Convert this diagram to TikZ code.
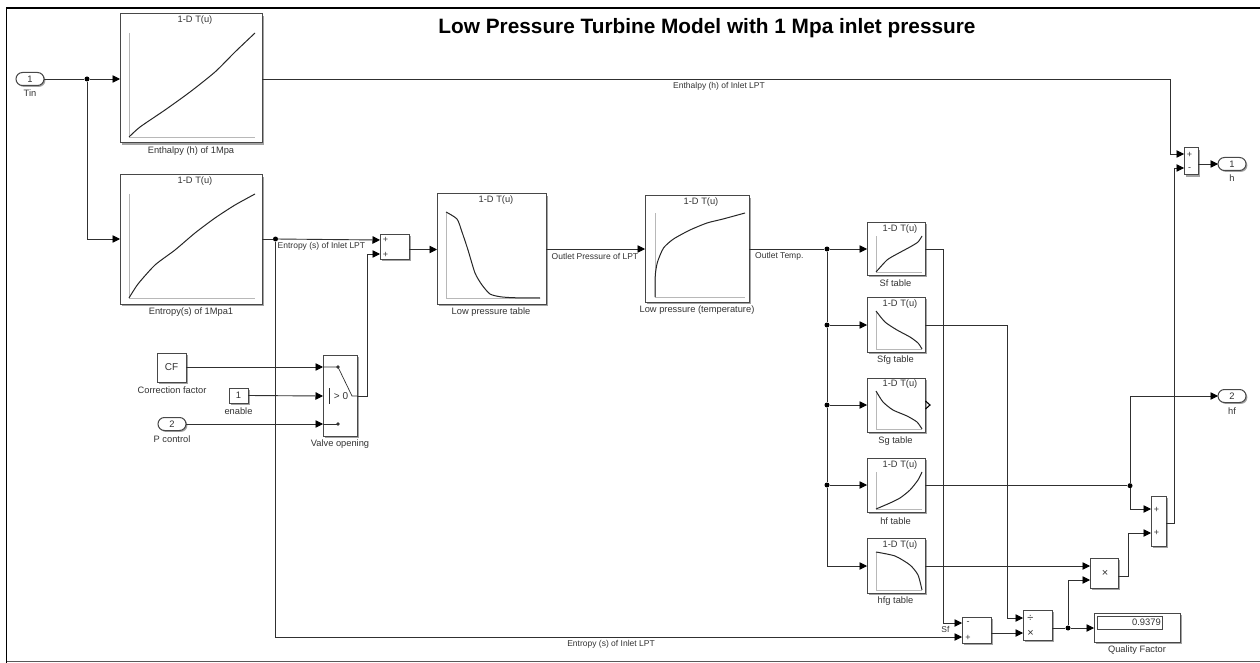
\documentclass[tikz,border=0pt]{standalone}
\usepackage{fontspec}
\setmainfont{Liberation Sans}
\usetikzlibrary{arrows.meta,shadows,shapes.misc,calc}
\definecolor{edge}{HTML}{484848}
\definecolor{wirec}{HTML}{303030}
\definecolor{txt}{HTML}{333333}
\tikzset{
  x=1pt,y=-1pt,
  block/.style={draw=edge,line width=1pt,fill=white,inner sep=0pt,outer sep=0pt,
    drop shadow={shadow xshift=1.6pt,shadow yshift=-1.6pt,fill=black!42,opacity=.85}},
  port/.style={rounded rectangle,draw=edge,line width=1pt,fill=white,inner sep=0pt,outer sep=0pt,
    minimum width=28pt,minimum height=13pt,font=\fontsize{9.4}{10}\selectfont,text=txt,
    drop shadow={shadow xshift=1.4pt,shadow yshift=-1.4pt,fill=black!42,opacity=.85}},
  wire/.style={draw=wirec,line width=.9pt},
  arrowed/.style={wire,-{Triangle[length=7.5pt,width=7.5pt,color=black]}},
  dot/.style={circle,fill=black,inner sep=0pt,minimum size=5pt},
  lab/.style={font=\fontsize{9.3}{10}\selectfont,text=txt,inner sep=0pt},
  sig/.style={font=\fontsize{8.5}{10}\selectfont,text=txt,inner sep=0pt},
  ttl/.style={font=\fontsize{9.3}{10}\selectfont,text=txt,inner sep=0pt},
  sgn/.style={font=\fontsize{9}{10}\selectfont,text=txt,inner sep=0pt},
  axis/.style={draw=black!28,line width=.9pt},
  curve/.style={draw=black!85,line width=1pt,smooth,tension=.4},
}
\newcommand{\blk}[5]{%
  \pgfmathsetmacro\bw{#4-#2}\pgfmathsetmacro\bh{#5-#3}%
  \node[block,minimum width=\bw pt,minimum height=\bh pt] (#1) at ({(#2+#4)/2},{(#3+#5)/2}) {};}
\begin{document}
\begin{tikzpicture}
\useasboundingbox (0,0) rectangle (1260,663);
\fill[white] (0,0) rectangle (1260,663);
\draw[black,line width=1.4pt] (6.5,663) -- (6.5,8) -- (1260,8);
\draw[black!65,line width=1pt] (6.5,661) -- (1260,661);

\node[font=\bfseries\fontsize{20.8}{22}\selectfont,inner sep=0pt] (title) at (707,28) {Low Pressure Turbine Model with 1 Mpa inlet pressure};

% ---- blocks
\blk{enth}{120}{14}{262}{143}
\blk{entr}{120}{175}{262}{304}
\blk{sumA}{380}{234}{409}{259}
\blk{lpt}{437}{194}{546}{304}
\blk{lpT}{645}{196}{749}{302}
\blk{sf}{867}{222}{925}{275}
\blk{sfg}{867}{297}{925}{352}
\blk{sg}{867}{378}{925}{432}
\blk{hft}{867}{458}{925}{512}
\blk{hfg}{867}{538}{925}{593}
\blk{sub}{962}{617}{991}{643}
\blk{dv}{1023}{610}{1052}{640}
\blk{prod}{1090}{558}{1118}{588}
\blk{sumB}{1151}{496}{1166}{546}
\blk{sumC}{1184}{148}{1198}{175}
\blk{disp}{1094}{613}{1180}{642}
\blk{valve}{323}{355}{357}{436}
\blk{cf}{157}{353}{186}{382}
\blk{en}{229}{388}{248}{403}
\node[port] (tin) at (30,79) {1};
\node[port] (pc) at (172,424) {2};
\node[port] (hout) at (1232,164) {1};
\node[port] (hfout) at (1232,396) {2};

% ---- inner texts of blocks
\foreach \n/\cx/\cy in {enth/195/20,entr/195/181,lpt/496/200,lpT/701/202,sf/900/229,sfg/900/304,sg/900/384,hft/900/465,hfg/900/545}
  \node[ttl] (\n-title) at (\cx,\cy) {1-D T(u)};
\node[lab,font=\fontsize{10}{11}\selectfont] (cf-text) at (cf) {CF};
\node[lab,font=\fontsize{9.4}{10}\selectfont] (en-text) at (en) {1};
\node[sgn] (sA1) at (385.5,240) {+};
\node[sgn] (sA2) at (385.5,254.5) {+};
\node[sgn] (sB1) at (1156.5,509.5) {+};
\node[sgn] (sB2) at (1156.5,533) {+};
\node[sgn] (sC1) at (1189.5,154.5) {+};
\node[sgn] (sC2) at (1189.5,169) {-};
\node[sgn] (sub1) at (968,623.5) {-};
\node[sgn] (sub2) at (968,638) {+};
\node[lab,font=\fontsize{11}{12}\selectfont] (dv1) at (1030.5,618.5) {÷};
\node[lab,font=\fontsize{11}{12}\selectfont] (dv2) at (1030.5,633) {×};
\node[lab,font=\fontsize{11}{12}\selectfont] (prodx) at (1105,573) {×};
\node[draw=edge,line width=.8pt,fill=white,minimum width=65pt,minimum height=13pt,inner sep=0pt] (field) at (1129.5,622.5) {};
\node[lab,font=\fontsize{9.4}{10}\selectfont,anchor=east] (val) at (1161,622.5) {0.9379};
\node[lab,font=\fontsize{10}{11}\selectfont] (gt) at (341,396) {> 0};

% ---- table plots
\draw[axis] (129,33) -- (129,137) -- (255,137);
\draw[curve] plot coordinates {(129,137)(140,127)(165,110)(190,92)(215,72)(235,52)(255,33)};
\draw[axis] (129,194) -- (129,298) -- (255,298);
\draw[curve] plot coordinates {(129,298)(138,284)(155,265)(175,250)(195,233)(215,218)(235,205)(255,194)};
\draw[axis] (446,213) -- (446,298) -- (540,298);
\draw[curve] plot coordinates {(446,212)(457,219)(462,232)(468,250)(475,273)(482,285)(490,294)(500,296.7)(513,297.7)(540,298)};
\draw[axis] (655,213) -- (655,297) -- (745,297);
\draw[curve] plot coordinates {(655,297)(655.3,275)(657.5,262)(663.5,248)(673.5,239)(690,230)(707,223)(723,219)(745,213)};
\draw[axis] (876,236) -- (876,272) -- (922,272);
\draw[curve] plot coordinates {(876,272)(887,260)(897,254)(910,247)(918,242)(922,236)};
\draw[axis] (876,311) -- (876,349) -- (922,349);
\draw[curve] plot coordinates {(876,311)(885,322)(897,330)(910,337)(918,343)(922,349)};
\draw[axis] (876,391) -- (876,429) -- (922,429);
\draw[curve] plot coordinates {(876,391)(883,402)(893,410)(907,416)(917,422)(922,429)};
\draw[axis] (876,472) -- (876,509) -- (922,509);
\draw[curve] plot coordinates {(876,509)(890,503)(900,498)(910,490)(918,480)(922,472)};
\draw[axis] (876,552) -- (876,590) -- (922,590);
\draw[curve] plot coordinates {(876,552)(895,556)(910,565)(918,575)(922,590)};

% ---- switch glyph
\coordinate (v1) at (323,367);
\coordinate (v2) at (323,396);
\coordinate (v3) at (323,424);
\coordinate (vo) at (357,396);
\draw[wire,line width=.7pt] (v1) -- (338,367) -- (352,396) -- (vo);
\draw[wire,line width=.7pt] (v3) -- (338,424);
\draw[wire,line width=.8pt] (329,388) -- (329,404);
\fill[black!80] (338,367) circle (1.8pt) (338,424) circle (1.8pt);

% ---- junctions
\node[dot] (j1) at (87,79) {};
\node[dot] (j2) at (275.5,239) {};
\node[dot] (t1) at (827,249) {};
\node[dot] (t2) at (827,325) {};
\node[dot] (t3) at (827,405) {};
\node[dot] (t4) at (827,485) {};
\node[dot] (j3) at (1130,485.7) {};
\node[dot] (j4) at (1068,628) {};

% ---- port coordinates
\coordinate (a1) at (380,240);
\coordinate (a2) at (380,254);
\coordinate (b1) at (1151,509);
\coordinate (b2) at (1151,533);
\coordinate (c1) at (1184,154);
\coordinate (c2) at (1184,168);
\coordinate (s1) at (962,623);
\coordinate (s2) at (962,637);
\coordinate (d1) at (1023,618);
\coordinate (d2) at (1023,633);
\coordinate (p1) at (1090,566);
\coordinate (p2) at (1090,580);

% ---- connectors
\draw[wire] (tin.east) -- (j1);
\draw[arrowed] (j1) -- (enth.west |- j1);
\draw[arrowed] (j1) |- (entr.west |- j2);
\draw[wire] (entr.east |- j2) -- (j2);
\draw[arrowed] (j2) -- (a1);
\draw[arrowed] (j2) |- (s2);
\draw[arrowed] (vo) -- (367,396) |- (a2);
\draw[arrowed] (cf.east |- v1) -- (v1);
\draw[arrowed] (en.east) -- (v2);
\draw[arrowed] (pc.east) -- (v3);
\draw[arrowed] (sumA.east |- 0,249.5) -- (lpt.west |- 0,249.5);
\draw[arrowed] (lpt.east |- 0,249) -- (lpT.west |- 0,249);
\draw[wire] (lpT.east |- t1) -- (t1);
\draw[arrowed] (t1) -- (sf.west |- t1);
\draw[arrowed] (t2) -- (sfg.west |- t2);
\draw[arrowed] (t3) -- (sg.west |- t3);
\draw[arrowed] (t4) -- (hft.west |- t4);
\draw[arrowed] (t1) -- (t2) -- (t3) -- (t4) |- (hfg.west |- 0,566);
\draw[arrowed] (sf.east |- t1) -- (943,249) |- (s1);
\draw[arrowed] (sfg.east |- t2) -- (1007,325) |- (d1);
\draw[arrowed] (sub.east |- d2) -- (d2);
\draw[wire] (dv.east |- j4) -- (j4);
\draw[arrowed] (j4) -- (disp.west |- j4);
\draw[arrowed] (j4) |- (p2);
\draw[arrowed] (hfg.east |- p1) -- (p1);
\draw[wire] (hft.east |- j3) -- (j3);
\draw[arrowed] (j3) |- (b1);
\draw[arrowed] (j3) |- (hfout.west);
\draw[arrowed] (prod.east |- 0,576) -- (1128,576) |- (b2);
\draw[arrowed] (sumB.east |- 0,523) -- (1174,523) |- (c2);
\draw[arrowed] (enth.east |- j1) -- (1170,79) |- (c1);
\draw[arrowed] (sumC.east |- hout) -- (hout.west);
% output port of Sg table
\draw[line width=1.1pt,black] (925.5,401) -- (930,405) -- (925.5,409);

% ---- labels
\node[lab] (l1) at (30,93) {Tin};
\node[lab] (l2) at (191,151) {Enthalpy (h) of 1Mpa};
\node[lab] (l3) at (191,312) {Entropy(s) of 1Mpa1};
\node[sig] (l4) at (719,86) {Enthalpy (h) of Inlet LPT};
\node[sig,anchor=west] (l5) at (277.5,246.5) {Entropy (s) of Inlet LPT};
\node[sig] (l6) at (611,644) {Entropy (s) of Inlet LPT};
\node[lab] (l7) at (491,312.5) {Low pressure table};
\node[lab] (l8) at (697,310) {Low pressure (temperature)};
\node[sig,anchor=west] (l9) at (551.5,256.5) {Outlet Pressure of LPT};
\node[sig,anchor=west] (l10) at (755,256.5) {Outlet Temp.};
\node[lab] (l11) at (172,390) {Correction factor};
\node[lab] (l12) at (238.5,411) {enable};
\node[lab] (l13) at (172,439.5) {P control};
\node[lab] (l14) at (340,444.5) {Valve opening};
\node[lab] (l15) at (895.5,283) {Sf table};
\node[lab] (l16) at (895.5,360) {Sfg table};
\node[lab] (l17) at (895.5,441) {Sg table};
\node[lab] (l18) at (895.5,521) {hf table};
\node[lab] (l19) at (895.5,601) {hfg table};
\node[sig] (l20) at (945.5,629.5) {Sf};
\node[lab] (l21) at (1137,650) {Quality Factor};
\node[lab] (l22) at (1232,178) {h};
\node[lab] (l23) at (1232,411) {hf};
\end{tikzpicture}
\end{document}
